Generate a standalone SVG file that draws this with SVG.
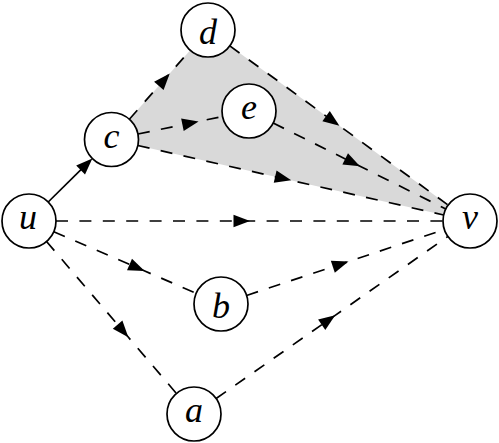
<svg xmlns="http://www.w3.org/2000/svg" width="499" height="443" viewBox="0 0 499 443">
<style>
.node circle{fill:#fff;stroke:#000;stroke-width:1.7}
.node text{font-family:"Liberation Serif","DejaVu Serif",serif;font-style:italic;font-size:36px;text-anchor:middle;fill:#000}
.e{fill:none;stroke:#000;stroke-width:1.7}
.d{stroke-dasharray:12 11.4;marker-mid:url(#mid)}
</style>
<defs>
<marker id="mid" markerUnits="userSpaceOnUse" viewBox="-18 -9 20 18" markerWidth="20" markerHeight="18" refX="0" refY="0" orient="auto" overflow="visible">
<path d="M0.5,0 L-16,-6.3 L-16,6.3 Z" fill="#000" stroke="none"/>
</marker>
<marker id="tip" markerUnits="userSpaceOnUse" viewBox="-16 -9 30 18" markerWidth="30" markerHeight="18" refX="0" refY="0" orient="auto" overflow="visible">
<path d="M8.5,0 L-8,-6.3 L-8,6.3 Z" fill="#000" stroke="none"/>
</marker>
</defs>
<polygon points="111.5,139.5 208,30 470,221" fill="#d9d9d9" stroke="none"/>
<g id="connectors">
<path class="e" d="M48.2,202 L86.3,164.4" marker-end="url(#tip)"/>
<path class="e d" d="M129.35,119.24 L169.4,73.8 L190.15,50.26"/>
<path class="e d" d="M137.94,134.02 L198.1,121.5 L222.56,116.48"/>
<path class="e d" d="M137.83,145.49 L290.75,180.25 L443.67,215.01"/>
<path class="e d" d="M229.82,45.91 L339,125.5 L448.18,205.09"/>
<path class="e d" d="M273.17,123.03 L359.5,166 L445.83,208.97"/>
<path class="e d" d="M56,221 L249.5,221 L443,221"/>
<path class="e d" d="M53.78,231.71 L144.2,270.8 L196.22,293.29"/>
<path class="e d" d="M46.55,241.52 L128,336.8 L176.45,393.48"/>
<path class="e d" d="M246.61,295.46 L348,261.7 L444.39,229.54"/>
<path class="e d" d="M216.13,398.53 L334.8,315.6 L447.87,236.47"/>
</g>
<g id="u" class="node"><circle cx="29" cy="221" r="27"/><text x="28" y="229">u</text></g>
<g id="c" class="node"><circle cx="111.5" cy="139.5" r="27"/><text x="111.5" y="147.5">c</text></g>
<g id="d" class="node"><circle cx="208" cy="30" r="27"/><text x="208" y="43.5">d</text></g>
<g id="e" class="node"><circle cx="249" cy="111" r="27"/><text x="249" y="119">e</text></g>
<g id="v" class="node"><circle cx="470" cy="221" r="27"/><text x="470" y="229">v</text></g>
<g id="b" class="node"><circle cx="221" cy="304" r="27"/><text x="221" y="317.5">b</text></g>
<g id="a" class="node"><circle cx="194" cy="414" r="27"/><text x="194" y="422">a</text></g>
</svg>
